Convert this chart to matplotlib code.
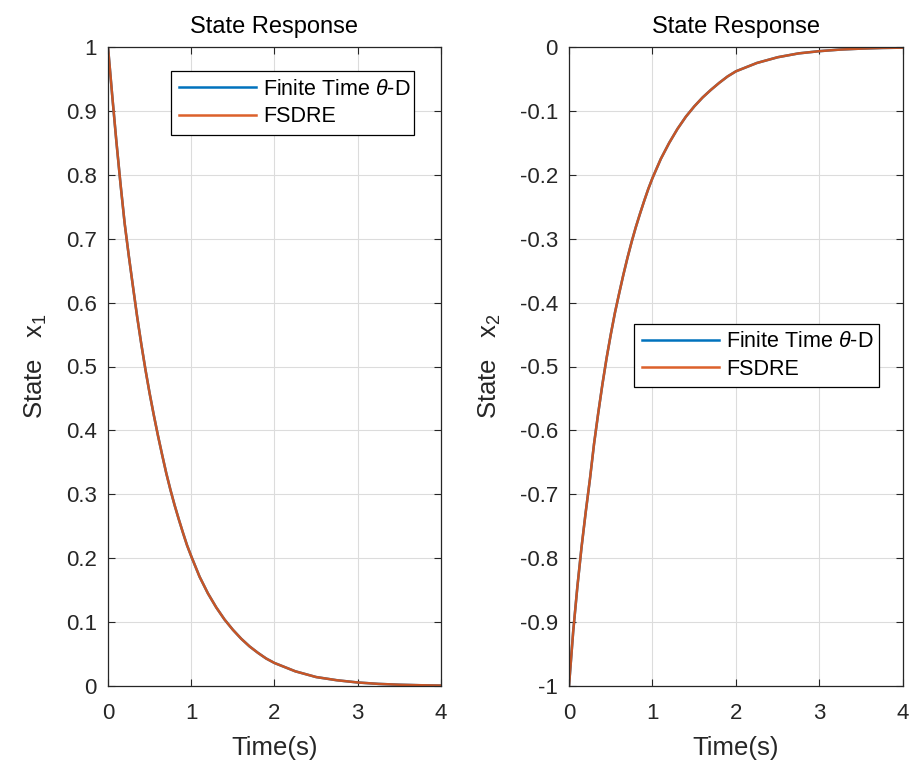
import numpy as np
import matplotlib
matplotlib.use('Agg')
import matplotlib.pyplot as plt

plt.rcParams['font.family'] = ['Liberation Sans', 'DejaVu Sans']
plt.rcParams['mathtext.fontset'] = 'custom'
plt.rcParams['mathtext.rm'] = 'Liberation Sans'
plt.rcParams['mathtext.it'] = 'Liberation Sans:italic'
plt.rcParams['axes.unicode_minus'] = False

# time samples (s)
t = [0.0, 0.05, 0.1, 0.15, 0.2, 0.25, 0.3, 0.35, 0.4, 0.45, 0.5, 0.55, 0.6,
     0.65, 0.7, 0.75, 0.8, 0.85, 0.9, 0.95, 1.0, 1.1, 1.2, 1.3, 1.4, 1.5,
     1.6, 1.7, 1.8, 1.9, 2.0, 2.25, 2.5, 2.75, 3.0, 3.25, 3.5, 3.75, 4.0]

# state x1 for both controllers
x1_theta_d = [1.0, 0.925, 0.853, 0.786, 0.724, 0.673, 0.625, 0.578, 0.535,
              0.495, 0.458, 0.424, 0.392, 0.362, 0.333, 0.307, 0.283, 0.261,
              0.240, 0.220, 0.203, 0.171, 0.145, 0.123, 0.104, 0.088, 0.074,
              0.062, 0.052, 0.043, 0.036, 0.023, 0.014, 0.009, 0.0055,
              0.0033, 0.002, 0.0012, 0.0007]
x1_fsdre = [1.0, 0.925, 0.853, 0.786, 0.724, 0.673, 0.625, 0.578, 0.535,
            0.495, 0.458, 0.424, 0.392, 0.362, 0.333, 0.307, 0.283, 0.261,
            0.240, 0.220, 0.203, 0.171, 0.145, 0.123, 0.104, 0.088, 0.074,
            0.062, 0.052, 0.043, 0.036, 0.023, 0.014, 0.009, 0.0055,
            0.0033, 0.002, 0.0012, 0.0007]

# state x2 for both controllers
x2_theta_d = [-1.0, -0.915, -0.845, -0.783, -0.728, -0.677, -0.621, -0.573,
              -0.528, -0.487, -0.450, -0.416, -0.386, -0.357, -0.330, -0.305,
              -0.282, -0.261, -0.241, -0.222, -0.205, -0.175, -0.150, -0.128,
              -0.109, -0.093, -0.079, -0.067, -0.056, -0.046, -0.038, -0.025,
              -0.016, -0.010, -0.0065, -0.004, -0.0025, -0.0015, -0.001]
x2_fsdre = [-1.0, -0.915, -0.845, -0.783, -0.728, -0.677, -0.621, -0.573,
            -0.528, -0.487, -0.450, -0.416, -0.386, -0.357, -0.330, -0.305,
            -0.282, -0.261, -0.241, -0.222, -0.205, -0.175, -0.150, -0.128,
            -0.109, -0.093, -0.079, -0.067, -0.056, -0.046, -0.038, -0.025,
            -0.016, -0.010, -0.0065, -0.004, -0.0025, -0.0015, -0.001]

x_ticks = [0, 1, 2, 3, 4]
y1_ticks = [0, 0.1, 0.2, 0.3, 0.4, 0.5, 0.6, 0.7, 0.8, 0.9, 1]
y1_labels = ['0', '0.1', '0.2', '0.3', '0.4', '0.5', '0.6', '0.7', '0.8', '0.9', '1']
y2_ticks = [-1, -0.9, -0.8, -0.7, -0.6, -0.5, -0.4, -0.3, -0.2, -0.1, 0]
y2_labels = ['-1', '-0.9', '-0.8', '-0.7', '-0.6', '-0.5', '-0.4', '-0.3', '-0.2', '-0.1', '0']

blue = '#0072BD'
orange = '#D95319'
dark = '#262626'

fig = plt.figure(figsize=(9.12, 7.7), dpi=100)
ax1 = fig.add_axes([108 / 912, 84 / 770, 333 / 912, 639 / 770])
ax2 = fig.add_axes([569 / 912, 84 / 770, 334 / 912, 639 / 770])


def style(ax, yticks, ylabels, ylim, ylabel):
    ax.set_xlim(0, 4)
    ax.set_ylim(*ylim)
    ax.set_xticks(x_ticks)
    ax.set_xticklabels([str(v) for v in x_ticks])
    ax.set_yticks(yticks)
    ax.set_yticklabels(ylabels)
    ax.grid(True, color='#dcdcdc', linewidth=0.8)
    ax.set_axisbelow(True)
    ax.tick_params(direction='in', length=5, width=0.8, colors=dark,
                   labelsize=16, top=True, right=True)
    ax.tick_params(axis='x', pad=12)
    ax.tick_params(axis='y', pad=8)
    for s in ax.spines.values():
        s.set_color(dark)
        s.set_linewidth(0.9)
    ax.set_title('State Response', fontsize=17, color='black', pad=10)
    ax.set_xlabel('Time(s)', fontsize=18.5, color=dark, labelpad=9)
    ax.set_ylabel(ylabel, fontsize=18.5, color=dark, labelpad=12)


def add_legend(ax, x0, y_top, width, height):
    leg = ax.legend(loc='upper left',
                    bbox_to_anchor=(x0, y_top - height, width, height),
                    mode='expand', borderaxespad=0, fontsize=15.5,
                    handlelength=3.6, fancybox=False, edgecolor='black',
                    framealpha=1, borderpad=0.35, labelspacing=0.3,
                    handletextpad=0.3)
    leg.get_frame().set_linewidth(0.9)


ax1.plot(t, x1_theta_d, color=blue, lw=1.8, label=r'Finite Time $\theta$-D')
ax1.plot(t, x1_fsdre, color=orange, lw=1.8, alpha=0.92, label='FSDRE')
style(ax1, y1_ticks, y1_labels, (0, 1), r'State   x$_{1}$')
add_legend(ax1, 0.19, 0.962, 0.73, 0.1)

ax2.plot(t, x2_theta_d, color=blue, lw=1.8, label=r'Finite Time $\theta$-D')
ax2.plot(t, x2_fsdre, color=orange, lw=1.8, alpha=0.92, label='FSDRE')
style(ax2, y2_ticks, y2_labels, (-1, 0), r'State   x$_{2}$')
add_legend(ax2, 0.196, 0.567, 0.733, 0.1)

fig.savefig('out.png', dpi=100, facecolor='white')
